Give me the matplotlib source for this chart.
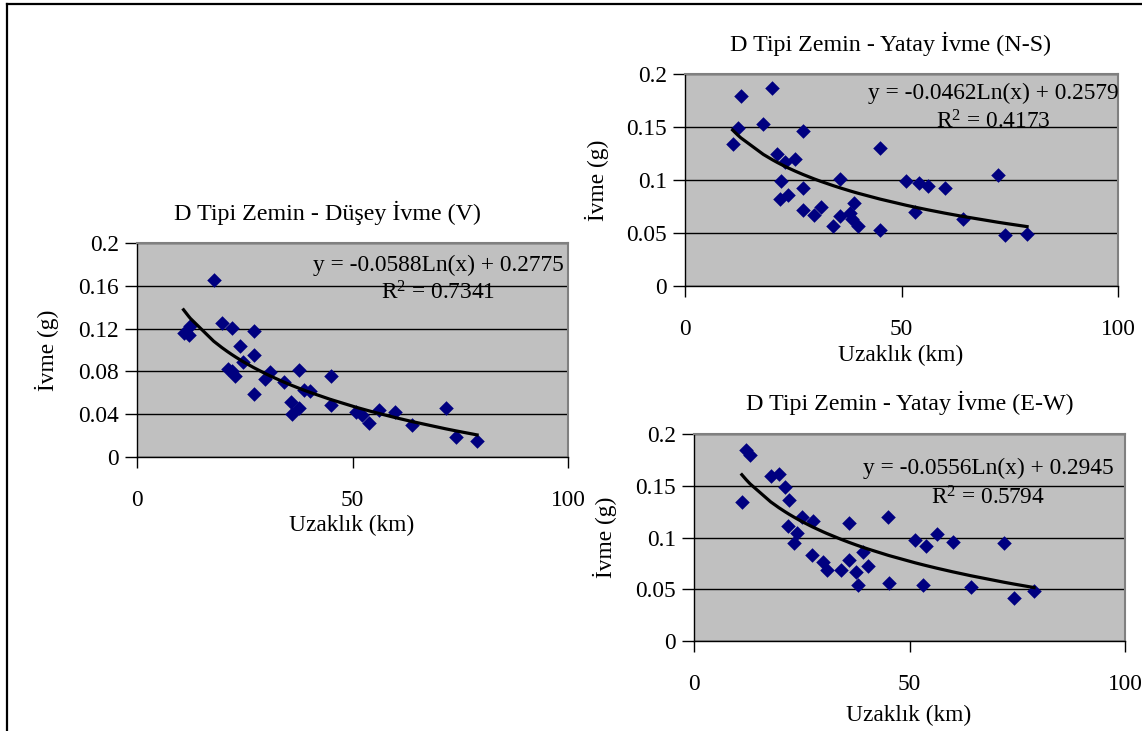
import numpy as np
import matplotlib
matplotlib.use("Agg")
import matplotlib.pyplot as plt
from matplotlib.lines import Line2D

plt.rcParams["font.family"] = ["Liberation Serif", "DejaVu Serif"]

# D Tipi Zemin - Düşey İvme (V)
v_x = [10.8, 12.0, 12.4, 17.8, 19.7, 22.0, 27.1, 23.8, 27.1, 24.7, 21.0, 22.8,
       22.0, 27.1, 29.8, 30.9, 34.0, 37.7, 38.7, 40.1, 35.8, 36.0, 37.5, 44.9,
       44.9, 50.7, 52.2, 53.8, 56.1, 59.8, 63.8, 71.7, 74.1, 78.9]
v_y = [0.116, 0.114, 0.122, 0.165, 0.125, 0.121, 0.118, 0.104, 0.095, 0.089,
       0.082, 0.076, 0.080, 0.059, 0.073, 0.079, 0.070, 0.081, 0.063, 0.062,
       0.051, 0.040, 0.046, 0.076, 0.049, 0.042, 0.039, 0.032, 0.044, 0.042,
       0.030, 0.046, 0.019, 0.015]
v_coef = (-0.0588, 0.2775)
v_r2 = 0.7341

# D Tipi Zemin - Yatay İvme (N-S)
ns_x = [11.0, 12.2, 12.9, 18.1, 20.2, 21.2, 22.1, 21.9, 23.1, 25.4, 23.8, 27.2,
        27.2, 27.2, 29.8, 31.3, 34.1, 35.9, 35.9, 38.1, 39.0, 38.5, 40.0, 45.0,
        45.0, 51.0, 53.2, 54.1, 56.2, 60.0, 64.2, 72.2, 74.0, 79.0]
ns_y = [0.134, 0.149, 0.179, 0.153, 0.187, 0.125, 0.099, 0.082, 0.117, 0.120,
        0.086, 0.146, 0.092, 0.072, 0.067, 0.075, 0.057, 0.101, 0.066, 0.069,
        0.078, 0.063, 0.057, 0.130, 0.053, 0.099, 0.070, 0.097, 0.094, 0.092,
        0.063, 0.105, 0.048, 0.049]
ns_coef = (-0.0462, 0.2579)
ns_r2 = 0.4173

# D Tipi Zemin - Yatay İvme (E-W)
ew_x = [11.1, 12.1, 13.0, 17.8, 19.7, 21.1, 22.1, 21.9, 23.2, 24.0, 25.0, 27.5,
        27.3, 30.0, 30.8, 34.1, 36.0, 36.0, 37.7, 38.1, 39.1, 40.3, 45.1, 45.2,
        51.3, 53.2, 53.8, 56.3, 60.0, 64.2, 71.9, 74.2, 78.9]
ew_y = [0.134, 0.185, 0.180, 0.159, 0.161, 0.149, 0.136, 0.111, 0.095, 0.104,
        0.120, 0.116, 0.083, 0.076, 0.069, 0.069, 0.114, 0.078, 0.067, 0.054,
        0.086, 0.072, 0.120, 0.056, 0.098, 0.054, 0.092, 0.103, 0.096, 0.052,
        0.095, 0.042, 0.048]
ew_coef = (-0.0556, 0.2945)
ew_r2 = 0.5794

W, H = 1142, 731
FS = 16.8
fig = plt.figure(figsize=(W / 100, H / 100), dpi=100)


def ax_at(l, t, r, b):
    return fig.add_axes([l / W, 1 - b / H, (r - l) / W, (b - t) / H])


def ftext(x, y, s, **kw):
    # text placed by figure pixel position (from top-left)
    return fig.text(x / W, 1 - y / H, s, ha="center", va="center", **kw)


def draw(ax, x, y, coef, r2, ystep, title, pos):
    ax.set_facecolor("#c0c0c0")
    ax.set_axisbelow(True)
    ax.yaxis.grid(True, color="black", linewidth=1.0)
    ax.scatter(x, y, marker="D", s=55, color="#000080", zorder=3, linewidths=0)
    xs = np.sort(np.array(x))
    ax.plot(xs, coef[0] * np.log(xs) + coef[1], color="black", lw=2.3, zorder=4)
    ax.set_xlim(0, 100)
    ax.set_ylim(0, 0.2)
    ax.set_xticks([0, 50, 100])
    yt = np.round(np.arange(0, 0.2 + 1e-9, ystep), 3)
    ax.set_yticks(yt)
    ax.set_yticklabels([f"{v:g}" for v in yt])
    for s in ["top", "right"]:
        ax.spines[s].set_color("#808080")
        ax.spines[s].set_linewidth(1.5)
    for s in ["left", "bottom"]:
        ax.spines[s].set_color("black")
        ax.spines[s].set_linewidth(1.0)
    ax.tick_params(axis="x", direction="out", length=8, width=1, pad=16,
                   labelsize=FS, color="black")
    ax.tick_params(axis="y", direction="out", length=9, width=1, pad=4,
                   labelsize=FS, color="black")
    ftext(*pos["title"], title, fontsize=17.3)
    ftext(*pos["xlabel"], "Uzaklık (km)", fontsize=FS)
    ftext(*pos["ylabel"], "İvme (g)", fontsize=FS, rotation=90)
    ftext(*pos["eq"], f"y = {coef[0]:.4f}Ln(x) + {coef[1]:.4f}", fontsize=FS, zorder=5)
    ftext(*pos["r2"], f"R$\\mathregular{{^2}}$ = {r2:.4f}", fontsize=FS, zorder=5)


ax1 = ax_at(137, 243, 568, 457)
draw(ax1, v_x, v_y, v_coef, v_r2, 0.04, "D Tipi Zemin - Düşey İvme (V)",
     {"title": (327, 213), "xlabel": (352, 525), "ylabel": (47, 350),
      "eq": (438, 265), "r2": (438, 293)})

ax2 = ax_at(685, 74, 1118, 286)
draw(ax2, ns_x, ns_y, ns_coef, ns_r2, 0.05, "D Tipi Zemin - Yatay İvme (N-S)",
     {"title": (891, 44), "xlabel": (901, 355), "ylabel": (597, 180),
      "eq": (993, 93), "r2": (993, 122)})

ax3 = ax_at(694, 434, 1125, 641)
draw(ax3, ew_x, ew_y, ew_coef, ew_r2, 0.05, "D Tipi Zemin - Yatay İvme (E-W)",
     {"title": (910, 403), "xlabel": (909, 715), "ylabel": (605, 537),
      "eq": (988, 468), "r2": (988, 498)})

# outer frame (cropped)
fig.add_artist(Line2D([7 / W, 7 / W], [0, 1 - 3.5 / H], color="black", lw=1.6,
                      transform=fig.transFigure))
fig.add_artist(Line2D([7 / W, 1], [1 - 3.5 / H, 1 - 3.5 / H], color="black", lw=1.6,
                      transform=fig.transFigure))

fig.savefig("out.png", dpi=100)
